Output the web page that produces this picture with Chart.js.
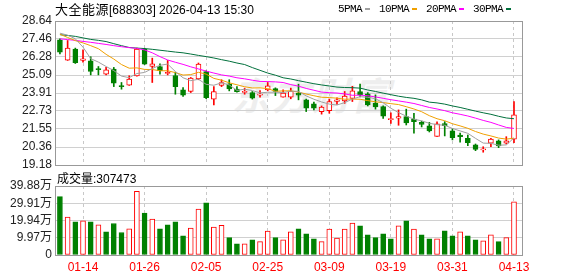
<!DOCTYPE html>
<html>
<head>
<meta charset="utf-8">
<script src="https://cdn.jsdelivr.net/npm/chart.js@4/dist/chart.umd.min.js"></script>
<style>
  html, body { margin: 0; padding: 0; background: #fff; }
  #wrap { position: relative; width: 578px; height: 276px; overflow: hidden;
          font-family: "Liberation Sans", Arial, "Noto Sans CJK SC", sans-serif; color: #000; }
  canvas { position: absolute; left: 0; }
  #price { top: 0; }
  #vol { top: 172px; }
  .txt { position: absolute; white-space: nowrap; font-size: 12px; line-height: 14px; }
  .cjk { font-family: "Noto Sans CJK SC", sans-serif; font-size: 13px; letter-spacing: 0.5px; }
  #title { left: 55px; top: 2px; }
  #volTitle { left: 57px; top: 171px; }
  #mark { position: absolute; left: 232px; top: 66px; font-family: "Noto Sans CJK SC", sans-serif;
          font-size: 38px; font-weight: 700; font-style: italic; color: #eeeeee; letter-spacing: 2px;
          white-space: nowrap; }
  #legend { position: absolute; left: 338px; top: 2px; display: flex; gap: 9px;
            font-family: "Liberation Mono", monospace; font-size: 11px; letter-spacing: -0.6px; line-height: 14px; }
  #legend span { display: flex; align-items: center; gap: 3px; }
  #legend i { display: inline-block; width: 5px; height: 2px; }
</style>
</head>
<body>
<div id="wrap">
  <div id="mark">东方财富</div>
  <canvas id="price" width="578" height="172"></canvas>
  <canvas id="vol" width="578" height="104"></canvas>
  <div id="title" class="txt"><span class="cjk">大全能源</span>[688303] 2026-04-13 15:30</div>
  <div id="legend"></div>
  <div id="volTitle" class="txt"><span class="cjk" style="font-size:12px;letter-spacing:0">成交量</span>:307473</div>
</div>
<script>
// Helpers
const $ = (s, r = document) => r.querySelector(s);

/* ---------- Data ---------- */
const dates = ['01-09','01-12','01-13','01-14','01-15','01-16','01-19','01-20','01-21','01-22',
  '01-23','01-26','01-27','01-28','01-29','01-30','02-02','02-03','02-04','02-05',
  '02-06','02-09','02-10','02-11','02-12','02-13','02-24','02-25','02-26','02-27',
  '03-02','03-03','03-04','03-05','03-06','03-09','03-10','03-11','03-12','03-13',
  '03-16','03-17','03-18','03-19','03-20','03-23','03-24','03-25','03-26','03-27',
  '03-30','03-31','04-01','04-02','04-03','04-07','04-08','04-09','04-10','04-13'];
const tickDates = ['01-14','01-26','02-05','02-25','03-09','03-19','03-31','04-13'];

const open = [27.41,26.07,26.80,26.05,26.03,25.48,25.15,25.48,24.38,24.43,
  25.04,26.80,25.65,25.65,25.19,25.06,24.12,24.01,24.84,25.32,
  23.51,24.40,24.51,24.16,23.95,23.94,23.77,24.12,24.20,23.64,
  23.64,23.90,23.46,23.20,22.69,22.75,23.36,23.39,23.56,24.01,
  23.85,23.24,23.02,22.16,22.25,22.36,22.19,21.98,21.75,21.06,
  21.90,21.42,21.15,20.94,20.50,20.17,20.61,20.76,20.61,20.87];
const high = [27.47,27.36,26.86,26.75,26.29,25.65,25.59,25.59,24.60,25.04,
  26.86,26.85,26.20,25.83,26.05,25.28,24.27,24.93,25.88,25.37,
  24.33,24.78,24.78,24.33,24.23,24.01,24.07,24.60,24.25,24.12,
  24.23,24.49,23.51,23.31,23.06,23.51,23.59,24.01,24.35,24.50,
  23.94,23.79,23.06,22.60,22.80,22.85,22.58,22.06,21.98,22.01,
  22.03,21.57,21.27,21.15,20.56,20.38,20.94,20.83,21.04,23.35];
const low = [26.47,26.05,25.85,25.94,25.10,25.10,25.09,24.33,24.16,24.41,
  25.02,25.78,24.60,25.15,25.10,23.83,23.68,23.94,24.78,23.53,
  23.13,24.33,24.05,23.97,23.83,23.51,23.64,24.05,23.74,23.63,
  23.53,23.46,22.69,22.80,22.52,22.58,23.16,23.23,23.35,23.66,
  23.06,22.85,22.24,21.91,21.79,21.81,21.27,21.68,21.35,21.06,
  21.09,20.83,20.68,20.45,20.12,20.02,20.38,20.32,20.56,20.65];
const close = [26.60,26.86,25.91,26.16,25.32,25.45,25.43,24.56,24.33,24.82,
  26.80,25.81,25.83,25.37,25.26,24.33,23.77,24.89,25.81,23.61,
  24.01,24.60,24.18,23.99,24.01,23.57,23.83,24.38,24.01,23.90,
  24.03,23.77,22.91,22.91,22.98,23.35,23.46,23.70,24.05,23.79,
  23.13,23.00,22.39,22.23,22.36,21.95,22.03,21.85,21.42,21.88,
  21.77,20.98,21.04,20.65,20.21,20.23,20.89,20.43,20.76,22.47];

// moving averages
const ma5 = [27.84,27.71,27.47,26.92,26.17,25.94,25.65,25.38,25.02,24.92,
  25.19,25.26,25.52,25.73,25.81,25.32,24.91,24.72,24.81,24.48,
  24.42,24.58,24.44,24.08,24.16,24.07,23.92,23.96,23.96,23.94,
  24.03,24.02,23.72,23.50,23.32,23.18,23.12,23.28,23.51,23.67,
  23.63,23.53,23.27,22.91,22.62,22.39,22.19,22.08,21.92,21.83,
  21.79,21.58,21.42,21.26,20.93,20.62,20.60,20.48,20.50,20.96];
const ma10 = [27.77,27.56,27.35,27.20,27.02,26.82,26.45,26.14,25.78,25.54,
  25.56,25.46,25.45,25.37,25.37,25.25,25.09,25.12,25.27,25.15,
  24.87,24.75,24.58,24.45,24.32,24.24,24.25,24.20,24.02,24.05,
  24.05,23.97,23.84,23.73,23.63,23.61,23.57,23.50,23.51,23.50,
  23.41,23.33,23.28,23.21,23.15,23.01,22.86,22.68,22.42,22.22,
  22.09,21.89,21.75,21.59,21.38,21.21,21.09,20.95,20.88,20.94];
const ma20 = [27.47,27.42,27.37,27.30,27.24,27.17,27.10,27.02,26.95,26.89,
  26.84,26.74,26.55,26.30,26.08,25.93,25.79,25.63,25.49,25.35,
  25.22,25.10,25.02,24.91,24.84,24.75,24.67,24.66,24.64,24.60,
  24.46,24.36,24.21,24.09,23.97,23.93,23.91,23.85,23.76,23.77,
  23.73,23.65,23.56,23.47,23.39,23.31,23.22,23.09,22.96,22.86,
  22.75,22.61,22.51,22.40,22.26,22.11,21.98,21.81,21.65,21.58];
const ma30 = [27.74,27.69,27.63,27.53,27.43,27.37,27.29,27.15,27.02,26.90,
  26.86,26.83,26.78,26.72,26.66,26.60,26.55,26.47,26.38,26.30,
  26.21,26.10,26.00,25.88,25.78,25.58,25.40,25.22,25.08,24.91,
  24.83,24.72,24.62,24.52,24.44,24.37,24.30,24.27,24.26,24.23,
  24.11,24.01,23.90,23.80,23.70,23.62,23.56,23.46,23.31,23.26,
  23.18,23.06,22.96,22.84,22.72,22.61,22.51,22.38,22.27,22.22];

// volume in 万 shares; 1 = red (up) bar
const volume = [33.7,21.9,19.2,19.7,19.2,17.4,13.4,18.2,13.0,15.1,
  36.8,24.3,20.7,15.1,17.4,19.2,11.1,15.5,26.5,30.1,
  16.1,17.2,10.0,6.5,6.5,8.8,7.7,13.8,10.0,8.8,
  13.4,15.1,12.3,9.4,7.7,15.0,9.8,15.0,18.4,16.9,
  11.7,10.0,12.3,9.4,16.9,19.7,15.0,11.7,9.4,9.4,
  14.0,11.1,13.4,11.1,8.8,8.2,11.7,7.7,10.0,30.75];
const volUp = [0,1,0,1,0,1,0,0,0,1, 1,0,1,0,0,0,0,1,1,0, 1,1,0,0,1,0,1,1,0,1,
  1,0,0,0,1,1,1,1,1,0, 0,0,0,0,1,0,1,0,0,1, 0,0,1,0,0,1,1,0,1,1];

const priceTicks = [19.18,20.36,21.55,22.73,23.91,25.09,26.28,27.46,28.64];
const volTicks = [0,9.97,19.94,29.91,39.88];
const volTickLabels = ['0','9.97万','19.94万','29.91万','39.88万'];

const maNames = ['5PMA','10PMA','20PMA','30PMA'];
const maColors = ['#a0a0a0','#f0a000','#ff00ff','#00703c'];

/* ---------- Styling ---------- */
const RED = '#ff0000', GREEN = '#008000';
const GRID = '#d0d0d0', FRAME = '#999';
const TICK_FONT = { family: '"Liberation Sans", Arial, "Noto Sans CJK SC", sans-serif', size: 12 };

// legend
$('#legend').innerHTML = maNames.map((n, i) =>
  `<span>${n}<i style="background:${maColors[i]}"></i></span>`).join('');

const frame = {
  id: 'frame',
  afterDraw(chart) {
    const { ctx, chartArea: a } = chart;
    ctx.save();
    ctx.strokeStyle = FRAME;
    ctx.lineWidth = 1;
    ctx.strokeRect(Math.round(a.left) + 0.5, Math.round(a.top) + 0.5,
      Math.round(a.right - a.left), Math.round(a.bottom - a.top));
    ctx.restore();
  }
};

const xAxis = (labels, height) => ({
  type: 'linear', bounds: 'data', offset: false, min: -0.64, max: 60.04,
  afterBuildTicks: (s) => { s.ticks = tickDates.map((d) => ({ value: dates.indexOf(d) })); },
  afterFit: (s) => { s.height = height; s.paddingLeft = s.paddingRight = 0; },
  grid: { color: '#c8c8c8', drawTicks: false, offset: false },
  border: { display: false, dash: [3, 3] },
  ticks: { display: labels, color: RED, font: TICK_FONT, padding: 5, maxRotation: 0,
           autoSkip: false, callback: (v) => dates[v] }
});

const yAxis = (min, max, ticks, labelFn) => ({
  type: 'linear', bounds: 'data', min, max,
  afterBuildTicks: (s) => { s.ticks = ticks.map((v) => ({ value: v })); },
  afterFit: (s) => { s.width = 55; s.paddingTop = s.paddingBottom = 0; },
  grid: { color: GRID, drawTicks: false },
  border: { display: false },
  ticks: { color: '#222', font: TICK_FONT, padding: 3, autoSkip: false, callback: labelFn }
});

const isUp = (i) => close[i] >= open[i];
const pts = (arr) => arr.map((v, i) => ({ x: i, y: v }));

const common = {
  responsive: false, animation: false, devicePixelRatio: 1, events: [],
  plugins: { legend: { display: false }, tooltip: { enabled: false } }
};

/* ---------- Price chart ---------- */
new Chart($('#price'), {
  type: 'bar',
  data: {
    datasets: [
      ...[ma5, ma10, ma20, ma30].map((m, k) => ({
        type: 'line', data: pts(m), borderColor: maColors[k], borderWidth: 1,
        pointRadius: 0, fill: false, tension: 0, order: 0
      })),
      {
        data: open.map((o, i) => ({ x: i, y: [Math.min(o, close[i]), Math.max(o, close[i])] })),
        backgroundColor: (c) => isUp(c.dataIndex) ? '#fff' : GREEN,
        borderColor: (c) => isUp(c.dataIndex) ? RED : GREEN,
        borderWidth: 1, borderSkipped: false, barThickness: 5, minBarLength: 1,
        grouped: false, order: 1
      },
      {
        data: low.map((l, i) => ({ x: i, y: [l, high[i]] })),
        backgroundColor: (c) => isUp(c.dataIndex) ? RED : GREEN,
        barThickness: 1, grouped: false, order: 2
      }
    ]
  },
  options: {
    ...common,
    layout: { padding: { left: 0, right: 56, top: 21, bottom: 7 } },
    scales: {
      x: xAxis(false, 0),
      y: yAxis(19.18, 28.64, priceTicks, (v) => v.toFixed(2))
    }
  },
  plugins: [frame]
});

/* ---------- Volume chart ---------- */
new Chart($('#vol'), {
  type: 'bar',
  data: {
    datasets: [{
      data: pts(volume),
      backgroundColor: (c) => volUp[c.dataIndex] ? '#fff' : GREEN,
      borderColor: (c) => volUp[c.dataIndex] ? RED : GREEN,
      borderWidth: 1, borderSkipped: false, barThickness: 5, grouped: false
    }]
  },
  options: {
    ...common,
    layout: { padding: { left: 0, right: 56, top: 14, bottom: 0 } },
    scales: {
      x: xAxis(true, 21),
      y: yAxis(0, 39.88, volTicks, (v, i) => volTickLabels[i])
    }
  },
  plugins: [frame]
});
</script>
</body>
</html>
